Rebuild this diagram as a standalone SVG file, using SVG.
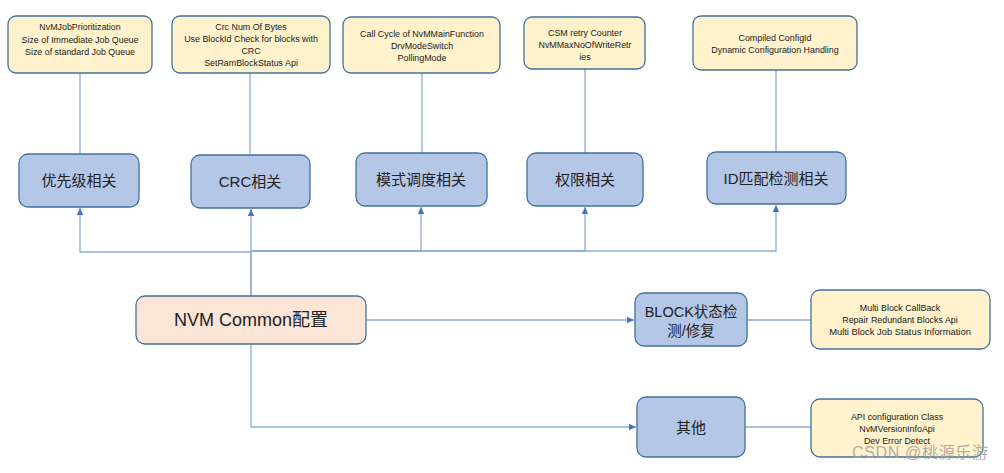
<svg xmlns="http://www.w3.org/2000/svg" width="1004" height="473" viewBox="0 0 1004 473">
<style>
.note{fill:#FFF2CC;stroke:#41719C;stroke-width:1.3}
.cat{fill:#B4C7E7;stroke:#41719C;stroke-width:1.3}
.root{fill:#FBE5D6;stroke:#41719C;stroke-width:1.3}
.nt{font-family:"Liberation Sans","Noto Sans CJK SC",sans-serif;font-size:8.9px;fill:#1a1a1a;text-anchor:middle}
.ct{font-family:"Liberation Sans","Noto Sans CJK SC",sans-serif;font-size:15px;fill:#222;text-anchor:middle}
.rt{font-family:"Liberation Sans","Noto Sans CJK SC",sans-serif;font-size:18px;fill:#222;text-anchor:middle}
.ln{fill:none;stroke:#8FAADC;stroke-width:1.3}
</style>
<defs>
<marker id="ah" markerWidth="8" markerHeight="8" refX="7" refY="4" orient="auto" markerUnits="userSpaceOnUse">
<path d="M0,0.8 L7,4 L0,7.2 Z" fill="#4472C4"/>
</marker>
</defs>
<g id="connectors">
<path class="ln" d="M80,73 V154"/>
<path class="ln" d="M250,73 V155"/>
<path class="ln" d="M422,73 V153"/>
<path class="ln" d="M585,69 V153"/>
<path class="ln" d="M776,70 V152"/>
<path class="ln" d="M251,296 V252 H80 V208" marker-end="url(#ah)"/>
<path class="ln" d="M251,296 V209" marker-end="url(#ah)"/>
<path class="ln" d="M251,251 H421 V207" marker-end="url(#ah)"/>
<path class="ln" d="M251,251 H585 V207" marker-end="url(#ah)"/>
<path class="ln" d="M251,251 H776 V205" marker-end="url(#ah)"/>
<path class="ln" d="M366,320 H634" marker-end="url(#ah)"/>
<path class="ln" d="M251,344 V427 H636" marker-end="url(#ah)"/>
<path class="ln" d="M747,320 H811"/>
<path class="ln" d="M745,427 H811"/>
</g>
<g id="n-prio-note"><rect class="note" x="8" y="16" width="144" height="57" rx="8"/>
<text class="nt" x="80" y="30">NvMJobPrioritization</text>
<text class="nt" x="80" y="42.5">Size of Immediate Job Queue</text>
<text class="nt" x="80" y="55">Size of standard Job Queue</text></g>
<g id="n-crc-note"><rect class="note" x="172" y="16" width="158" height="57" rx="8"/>
<text class="nt" x="251" y="30">Crc Num Of Bytes</text>
<text class="nt" x="251" y="42">Use BlockId Check for blocks with</text>
<text class="nt" x="251" y="54">CRC</text>
<text class="nt" x="251" y="66">SetRamBlockStatus Api</text></g>
<g id="n-mode-note"><rect class="note" x="343" y="17" width="157" height="56" rx="8"/>
<text class="nt" x="422" y="37">Call Cycle of NvMMainFunction</text>
<text class="nt" x="422" y="49">DrvModeSwitch</text>
<text class="nt" x="422" y="61">PollingMode</text></g>
<g id="n-perm-note"><rect class="note" x="524" y="17" width="121" height="52" rx="8"/>
<text class="nt" x="585" y="36">CSM retry Counter</text>
<text class="nt" x="585" y="48">NvMMaxNoOfWriteRetr</text>
<text class="nt" x="585" y="60">ies</text></g>
<g id="n-id-note"><rect class="note" x="693" y="16" width="164" height="54" rx="8"/>
<text class="nt" x="775" y="41">Compiled ConfigId</text>
<text class="nt" x="775" y="53">Dynamic Configuration Handling</text></g>
<g id="n-prio"><rect class="cat" x="19" y="154" width="120" height="53" rx="9"/>
<text class="ct" x="79" y="186">优先级相关</text></g>
<g id="n-crc"><rect class="cat" x="191" y="155" width="119" height="53" rx="9"/>
<text class="ct" x="250" y="187">CRC相关</text></g>
<g id="n-mode"><rect class="cat" x="356" y="153" width="131" height="53" rx="9"/>
<text class="ct" x="421" y="185">模式调度相关</text></g>
<g id="n-perm"><rect class="cat" x="527" y="153" width="116" height="53" rx="9"/>
<text class="ct" x="585" y="185">权限相关</text></g>
<g id="n-id"><rect class="cat" x="707" y="152" width="139" height="52" rx="9"/>
<text class="ct" x="776" y="184">ID匹配检测相关</text></g>
<g id="n-root"><rect class="root" x="136" y="296" width="230" height="48" rx="9"/>
<text class="rt" x="251" y="326">NVM Common配置</text></g>
<g id="n-block"><rect class="cat" x="635" y="293" width="112" height="53" rx="9"/>
<text class="ct" x="691" y="317" style="font-size:14.5px">BLOCK状态检</text>
<text class="ct" x="691" y="336" style="font-size:14.5px">测/修复</text></g>
<g id="n-other"><rect class="cat" x="637" y="397" width="108" height="60" rx="9"/>
<text class="ct" x="691" y="433">其他</text></g>
<g id="n-block-note"><rect class="note" x="811" y="290" width="179" height="59" rx="9"/>
<text class="nt" x="900" y="311">Multi Block CallBack</text>
<text class="nt" x="900" y="323">Repair Redundant Blocks Api</text>
<text class="nt" x="900" y="335" style="font-size:9.4px">Multi Block Job Status Information</text></g>
<g id="n-other-note"><rect class="note" x="811" y="399" width="172" height="58" rx="9"/>
<text class="nt" x="897" y="420">API configuration Class</text>
<text class="nt" x="897" y="432">NvMVersionInfoApi</text>
<text class="nt" x="897" y="444">Dev Error Detect</text></g>
<text x="852" y="458" textLength="136" style="font-family:'Liberation Sans','Noto Sans CJK SC',sans-serif;font-size:16px;fill:#a0a0a0;fill-opacity:0.85">CSDN @桃源乐游</text>
</svg>
